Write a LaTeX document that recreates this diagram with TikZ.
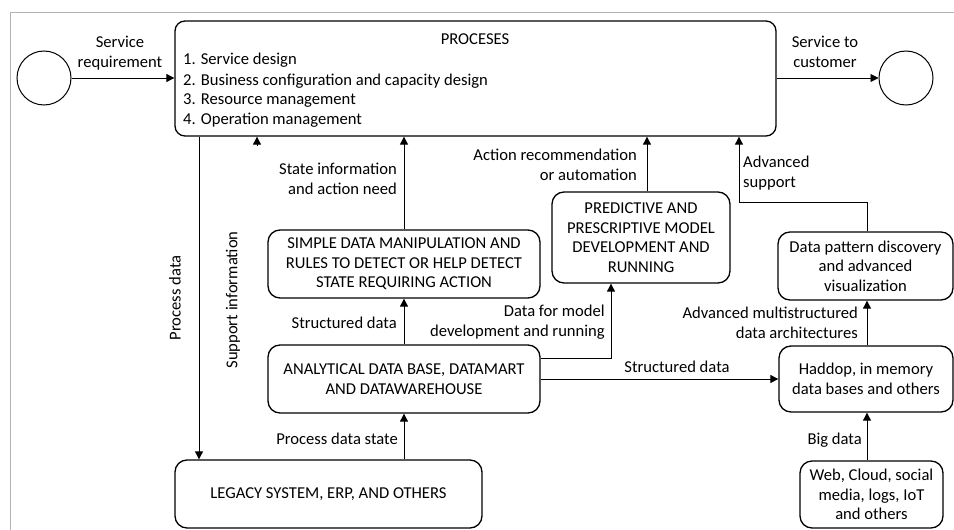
\documentclass[tikz,border=0pt]{standalone}
\usepackage{fontspec}
\setmainfont{Carlito}
\usetikzlibrary{arrows.meta,calc}
\begin{document}
\begin{tikzpicture}[x=1pt,y=-1pt,
  font=\fontsize{16.6}{19.5}\selectfont,
  box/.style={draw, line width=1.3pt, rounded corners=12pt, align=center, inner sep=0pt},
  endpt/.style={draw, line width=1pt, circle, minimum size=54pt, inner sep=0pt},
  arr/.style={line width=0.9pt, -{Triangle[length=8pt,width=8pt]}},
  lbl/.style={align=center, inner sep=0pt},
  lblr/.style={align=right, inner sep=0pt, anchor=east},
  lbll/.style={align=left, inner sep=0pt, anchor=west}]
\useasboundingbox (0,0) rectangle (954,530);
% outer frame
\draw[gray!60, line width=0.9pt] (10,12) rectangle (980,560);

% start and end events
\node[endpt] (start) at (44,78) {};
\node[endpt] (finish) at (906,78) {};

% process box
\node[box, rounded corners=10pt, minimum width=601pt, minimum height=115pt] (proc) at (475.5,78.5) {};
\node[lbl] (proctitle) at (475,39) {PROCESES};
\node[lbll] (p1) at (183,60) {1. Service design};
\node[lbll] (p2) at (183,81) {2. Business configuration and capacity design};
\node[lbll] (p3) at (183,101) {3. Resource management};
\node[lbll] (p4) at (183,120) {4. Operation management};

% functional boxes
\node[box, minimum width=272pt, minimum height=68pt] (simple) at (404,264)
  {SIMPLE DATA MANIPULATION AND\\RULES TO DETECT OR HELP DETECT\\STATE REQUIRING ACTION};
\node[box, minimum width=272pt, minimum height=68pt] (analytic) at (404,379)
  {ANALYTICAL DATA BASE, DATAMART\\AND DATAWAREHOUSE};
\node[box, minimum width=307pt, minimum height=68pt] (legacy) at (328.5,494)
  {LEGACY SYSTEM, ERP, AND OTHERS};
\node[box, minimum width=178pt, minimum height=91pt] (predict) at (641,237.5)
  {PREDICTIVE AND\\PRESCRIPTIVE MODEL\\DEVELOPMENT AND\\RUNNING};
\node[box, minimum width=175pt, minimum height=68pt] (pattern) at (865.5,266)
  {Data pattern discovery\\and advanced\\visualization};
\node[box, minimum width=174pt, minimum height=66pt] (haddop) at (866,379)
  {Haddop, in memory\\data bases and others};
\node[box, minimum width=143pt, minimum height=67pt] (web) at (871.5,494.5)
  {Web, Cloud, social\\media, logs, IoT\\and others};

% routing coordinates
\coordinate (pdx) at (199,0);
\coordinate (six) at (257,146);
\coordinate (arx) at (647,0);
\coordinate (dmk) at (611,358);
\coordinate (adk) at (739,202);
\coordinate (cx) at (867,0);

% connectors
\draw[arr] (start.east) -- (start.east -| proc.west);
\draw[arr] (proc.east |- finish) -- (finish.west);
\draw[arr] (proc.south -| pdx) -- (legacy.north -| pdx);
\draw[arr] (six) -- (six |- proc.south);
\draw[arr] (simple.north) -- (simple.north |- proc.south);
\draw[arr] (analytic.north) -- (simple.south);
\draw[arr] (legacy.north -| analytic.south) -- (analytic.south);
\draw[arr] (analytic.east |- dmk) -- (dmk) -- (dmk |- predict.south);
\draw[arr] (analytic.east) -- (analytic.east -| haddop.west);
\draw[arr] (predict.north -| arx) -- (arx |- proc.south);
\draw[arr] (pattern.north -| cx) |- (adk) -- (adk |- proc.south);
\draw[arr] (haddop.north -| cx) -- (pattern.south -| cx);
\draw[arr] (web.north -| cx) -- (haddop.south -| cx);

% connector labels
\node[lbl] (l1) at (120,53) {Service\\requirement};
\node[lbl] (l2) at (825,52) {Service to\\customer};
\node[lbl, rotate=90] (l3) at (175,298) {Process data};
\node[lbl, rotate=90] (l4) at (233,300) {Support information};
\node[lblr] (l5) at (397,179) {State information\\and action need};
\node[lblr] (l6) at (397,323) {Structured data};
\node[lblr] (l7) at (398,439) {Process data state};
\node[lblr] (l8) at (605,322) {Data for model\\development and running};
\node[lblr] (l9) at (637,165) {Action recommendation\\or automation};
\node[lbll] (l10) at (743,173) {Advanced\\support};
\node[lblr] (l11) at (858,323) {Advanced multistructured\\data architectures};
\node[lbl] (l12) at (677,367) {Structured data};
\node[lblr] (l13) at (862,440) {Big data};
\end{tikzpicture}
\end{document}
